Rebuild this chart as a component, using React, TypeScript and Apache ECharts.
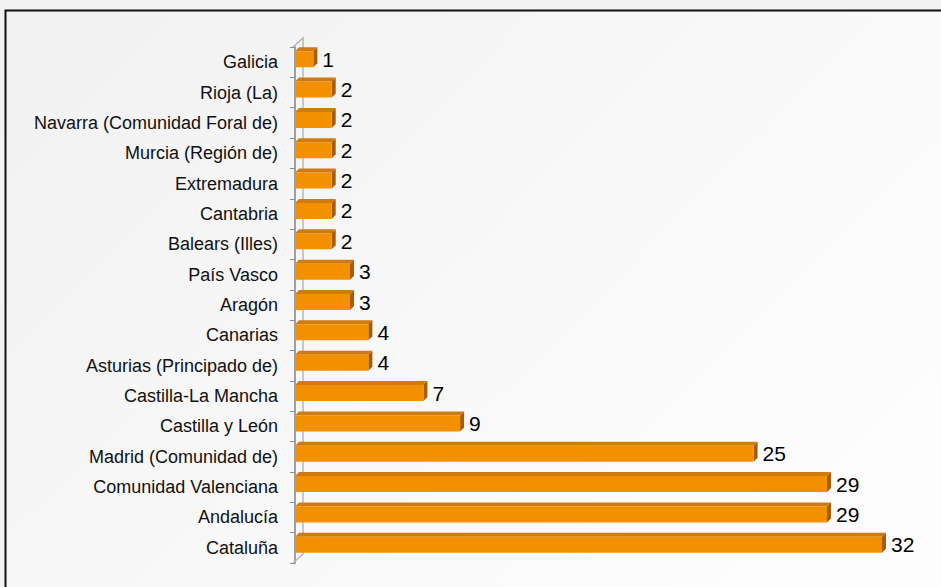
import React, { useEffect, useRef } from "react";
import * as echarts from "echarts";

const categories = [
  "Galicia",
  "Rioja (La)",
  "Navarra (Comunidad Foral de)",
  "Murcia (Región de)",
  "Extremadura",
  "Cantabria",
  "Balears (Illes)",
  "País Vasco",
  "Aragón",
  "Canarias",
  "Asturias (Principado de)",
  "Castilla-La Mancha",
  "Castilla y León",
  "Madrid (Comunidad de)",
  "Comunidad Valenciana",
  "Andalucía",
  "Cataluña",
];
const values = [1, 2, 2, 2, 2, 2, 2, 3, 3, 4, 4, 7, 9, 25, 29, 29, 32];

const W = 941;
const H = 587;
const GRID_LEFT = 295;
const GRID_TOP = 47;
const GRID_BOTTOM = 24;
const GRID_RIGHT = 59;
const AXIS_X = 293;
const WALL = 10;

const FRONT = "#F39000";
const TOP = "#CF7A12";
const SIDE = "#A65C0C";
const DEPTH = 4;

export default function App() {
  const ref = useRef<HTMLDivElement>(null);
  useEffect(() => {
    if (!ref.current) return;
    const chart = echarts.init(ref.current, undefined, { renderer: "svg" });
    const axisBottom = H - GRID_BOTTOM;
    const option: any = {
      animation: false,
      backgroundColor: "#f2f2f2",
      graphic: [
        {
          type: "rect",
          z: -10,
          silent: true,
          shape: { x: 5.5, y: 10.5, width: 1000, height: 1000 },
          style: {
            fill: new echarts.graphic.LinearGradient(0, 0, 1, 1, [
              { offset: 0, color: "#f1f1f1" },
              { offset: 0.6, color: "#fcfcfc" },
              { offset: 1, color: "#ffffff" },
            ]),
            stroke: "#111",
            lineWidth: 2,
          },
        },
        {
          type: "polyline",
          z: 1,
          silent: true,
          shape: {
            points: [
              [AXIS_X, GRID_TOP],
              [AXIS_X + WALL, GRID_TOP - 9],
              [AXIS_X + WALL, axisBottom - 9],
              [AXIS_X, axisBottom],
            ],
          },
          style: { stroke: "#b8b8b8", lineWidth: 1.5, fill: "none" },
        },
      ],
      grid: {
        left: GRID_LEFT,
        right: GRID_RIGHT,
        top: GRID_TOP,
        bottom: GRID_BOTTOM,
      },
      xAxis: {
        type: "value",
        min: 0,
        max: 32,
        show: false,
      },
      yAxis: {
        type: "category",
        data: categories,
        inverse: true,
        offset: GRID_LEFT - AXIS_X,
        axisLine: { show: true, lineStyle: { color: "#a0a0a0", width: 2 } },
        axisTick: { show: true, length: 5, lineStyle: { color: "#8a8a8a", width: 1 } },
        axisLabel: {
          margin: 15,
          color: "#111",
          fontSize: 18,
          fontFamily: "Liberation Sans, Arial, sans-serif",
        },
        splitLine: { show: false },
      },
      series: [
        {
          type: "custom",
          z: 3,
          data: values.map((v, i) => [v, i]),
          encode: { x: 0, y: 1 },
          renderItem: (params: any, api: any) => {
            const v = api.value(0);
            const i = api.value(1);
            const p0 = api.coord([0, i]);
            const p1 = api.coord([v, i]);
            const x0 = p0[0];
            const x1 = p1[0];
            const c = p0[1];
            const yt = c - 11;
            const yb = c + 5;
            return {
              type: "group",
              children: [
                {
                  type: "polygon",
                  shape: {
                    points: [
                      [x0, yt],
                      [x0 + DEPTH, yt - DEPTH],
                      [x1 + DEPTH, yt - DEPTH],
                      [x1, yt],
                    ],
                  },
                  style: { fill: TOP },
                },
                {
                  type: "polygon",
                  shape: {
                    points: [
                      [x1, yt],
                      [x1 + DEPTH, yt - DEPTH],
                      [x1 + DEPTH, yb - DEPTH],
                      [x1, yb],
                    ],
                  },
                  style: { fill: SIDE },
                },
                {
                  type: "rect",
                  shape: { x: x0, y: yt, width: x1 - x0, height: yb - yt },
                  style: { fill: FRONT },
                },
                {
                  type: "text",
                  style: {
                    x: x1 + 9,
                    y: c - 3,
                    text: String(v),
                    fill: "#000",
                    fontSize: 21,
                    fontFamily: "Liberation Sans, Arial, sans-serif",
                    align: "left",
                    verticalAlign: "middle",
                  },
                },
              ],
            };
          },
        },
      ],
    };
    chart.setOption(option);
    return () => chart.dispose();
  }, []);
  return (
    <div
      ref={ref}
      style={{ position: "fixed", left: 0, top: 0, width: W, height: H }}
    />
  );
}
